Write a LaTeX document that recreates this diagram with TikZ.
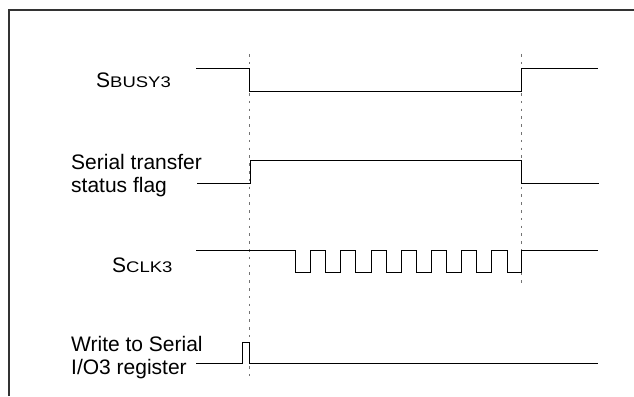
\documentclass[tikz,border=0pt]{standalone}
\usepackage{fontspec}
\setmainfont{Liberation Sans}
\newcommand\sigsc[1]{{\fontsize{15.4}{18}\selectfont\scalebox{1.2}[1]{#1}}}
\begin{document}
\begin{tikzpicture}[x=1pt,y=-1pt,
  sig/.style={line width=1pt,black,line join=miter},
  guide/.style={line width=1.4pt,black!55,dash pattern=on 2.6pt off 5.2pt},
  frameline/.style={line width=2pt,black!80},
  lbl/.style={anchor=base west,inner sep=0pt,font=\fontsize{21}{24}\selectfont}]
\useasboundingbox (0,0) rectangle (634,396);
% frame
\coordinate (fbl) at (9,396);
\coordinate (ftl) at (9,10);
\coordinate (ftr) at (634,10);
\draw[frameline] (fbl) -- (ftl) -- (ftr);
% guides
\coordinate (g1t) at (249.5,54);
\coordinate (g1b) at (249.5,376);
\coordinate (g2t) at (521.7,54);
\coordinate (g2b) at (521.7,287);
\draw[guide] (g1t) -- (g1b);
\draw[guide] (g2t) -- (g2b);
% labels
\node[lbl] (busy) at (96,88) {S\sigsc{BUSY3}};
\node[lbl] (flag1) at (71,169) {Serial transfer};
\node[lbl] (flag2) at (71,192) {status flag};
\node[lbl] (clk) at (112,272.7) {S\sigsc{CLK3}};
\node[lbl] (wr1) at (71,351) {Write to Serial};
\node[lbl] (wr2) at (71,374.3) {I/O3 register};
% SBUSY3
\draw[sig] (196,68) -- (249.5,68) -- (249.5,91) -- (521.7,91) -- (521.7,68) -- (598,68);
% status flag
\draw[sig] (197,183) -- (250,183) -- (250,160) -- (521.7,160) -- (521.7,183) -- (599,183);
% SCLK3
\draw[sig] (196,250) -- (295.3,250)
  -- (295.3,272) -- (310.7,272) -- (310.7,250) -- (325.3,250)
  -- (325.3,272) -- (340.8,272) -- (340.8,250) -- (355.5,250)
  -- (355.5,272) -- (371,272) -- (371,250) -- (386,250)
  -- (386,272) -- (401,272) -- (401,250) -- (416.5,250)
  -- (416.5,272) -- (431.7,272) -- (431.7,250) -- (446.5,250)
  -- (446.5,272) -- (461.7,272) -- (461.7,250) -- (476.7,250)
  -- (476.7,272) -- (491.7,272) -- (491.7,250) -- (507.3,250)
  -- (507.3,272) -- (521.7,272) -- (521.7,250) -- (598,250);
% write pulse
\draw[sig] (196,363) -- (242,363) -- (242,342) -- (249.5,342) -- (249.5,363) -- (598,363);
\end{tikzpicture}
\end{document}
